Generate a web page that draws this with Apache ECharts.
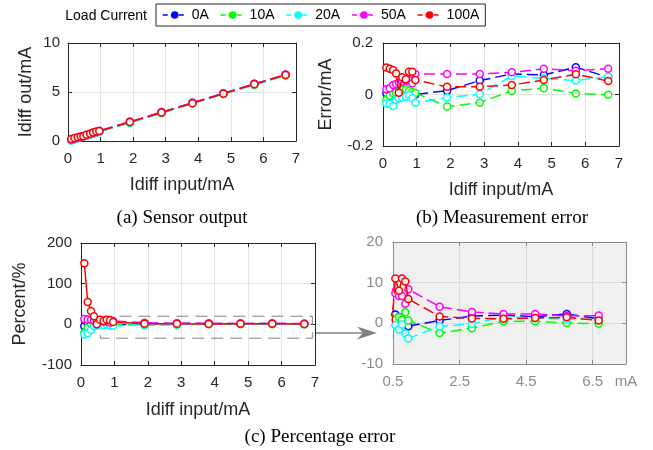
<!DOCTYPE html>
<html>
<head>
<meta charset="utf-8">
<script src="https://cdn.jsdelivr.net/npm/echarts@6/dist/echarts.min.js"></script>
<style>
html, body { margin: 0; padding: 0; background: #fff; }
#main { width: 653px; height: 450px; }
</style>
</head>
<body>
<div id="main"></div>
<script>
// load currents and their colours
var names = ['0A', '10A', '20A', '50A', '100A'];
var colors = ['#0000ff', '#00ff00', '#00ffff', '#ff00ff', '#ff0000'];

// Idiff input (mA), shared by every panel
var inputs = [0.1, 0.2, 0.3, 0.39, 0.47, 0.57, 0.68, 0.77, 0.87, 0.96, 1.9, 2.87, 3.82, 4.77, 5.72, 6.68];

// (a) Idiff out / mA
var out0A   = [0.1, 0.21, 0.31, 0.41, 0.49, 0.58, 0.69, 0.78, 0.87, 0.96, 1.92, 2.92, 3.9, 4.85, 5.83, 6.75];
var out10A  = [0.08, 0.2, 0.31, 0.4, 0.48, 0.58, 0.7, 0.78, 0.88, 0.97, 1.85, 2.84, 3.84, 4.79, 5.72, 6.68];
var out20A  = [0.06, 0.16, 0.29, 0.38, 0.46, 0.56, 0.68, 0.76, 0.84, 0.93, 1.89, 2.87, 3.89, 4.83, 5.77, 6.75];
var out50A  = [0.12, 0.22, 0.34, 0.43, 0.51, 0.61, 0.73, 0.83, 0.91, 1.04, 1.98, 2.95, 3.91, 4.87, 5.81, 6.78];
var out100A = [0.2, 0.3, 0.39, 0.47, 0.48, 0.64, 0.74, 0.86, 0.96, 1.02, 1.93, 2.9, 3.86, 4.83, 5.8, 6.73];

// (b) Error / mA
var err0A   = [0.005, 0.008, 0.012, 0.016, 0.018, 0.014, 0.01, 0.008, 0.004, 0.0, 0.015, 0.054, 0.08, 0.076, 0.106, 0.067];
var err10A  = [-0.02, -0.005, 0.005, 0.008, 0.012, 0.018, 0.02, 0.015, 0.01, 0.006, -0.047, -0.032, 0.015, 0.024, 0.004, -0.001];
var err20A  = [-0.035, -0.037, -0.045, -0.02, -0.015, -0.012, -0.009, -0.002, -0.015, -0.032, -0.012, 0.001, 0.072, 0.063, 0.054, 0.069];
var err50A  = [0.02, 0.024, 0.037, 0.041, 0.046, 0.05, 0.053, 0.056, 0.044, 0.08, 0.08, 0.08, 0.086, 0.1, 0.092, 0.1];
var err100A = [0.105, 0.1, 0.095, 0.082, 0.007, 0.067, 0.059, 0.088, 0.088, 0.056, 0.03, 0.03, 0.037, 0.056, 0.079, 0.052];

// (c) Percent / %  (also the zoomed panel)
var pct0A   = [-5, 2, 3, 3.5, 3, 2.2, 1.5, 1, 0.5, -0.7, 0.7, 1.8, 2.0, 1.6, 2.3, 1.1];
var pct10A  = [-21, -8, 1.5, 2, 2.5, 0.9, 1.5, 0.9, 2.7, 0.7, -2.4, -1.2, 0.5, 0.5, 0.1, -0.1];
var pct20A  = [-25, -22, -14, -5, -3, -0.4, -1.6, -0.3, -2.5, -3.7, -0.8, -0.1, 1.6, 1.3, 1.0, 1.0];
var pct50A  = [13, 12, 11, 9.5, 8.5, 7.4, 6.7, 6.7, 4.8, 8.4, 4.1, 2.8, 2.3, 2.3, 1.8, 1.9];
var pct100A = [150, 55, 33, 20, 0, 11, 8, 11, 10.3, 6, 1.7, 1.2, 1.1, 1.3, 1.5, 0.7];

// zoom box drawn on (c): [x0, y0, x1, y1]
var zoomBox = [0.58, 20, 6.92, -34];

var outs = [out0A, out10A, out20A, out50A, out100A];
var errs = [err0A, err10A, err20A, err50A, err100A];
var pcts = [pct0A, pct10A, pct20A, pct50A, pct100A];

var SANS = '"Liberation Sans", Arial, sans-serif';
var SERIF = '"Liberation Serif", "Times New Roman", serif';
var DARK = '#262626';
var GRAY = '#8a8a8a';

var grids = [
  { left: 68, top: 43, width: 228, height: 98 },
  { left: 383, top: 43, width: 236, height: 103 },
  { left: 81, top: 243, width: 234, height: 122 },
  { left: 393, top: 242, width: 233, height: 122, show: true, backgroundColor: '#f0f0f0', borderWidth: 0 }
];

var xAxes = [];
var yAxes = [];

function addAxes(g, dir, min, max, interval, opt) {
  var lineColor = opt.gray ? GRAY : DARK;
  var main = {
    type: 'value', gridIndex: g, min: min, max: max, interval: interval,
    position: dir == 'x' ? 'bottom' : 'left',
    axisLine: { show: true, onZero: false, lineStyle: { color: lineColor, width: 1 } },
    axisTick: { show: true, inside: true, length: 4, lineStyle: { color: lineColor } },
    axisLabel: { color: lineColor, fontSize: 15, fontFamily: SANS, margin: opt.margin || 10, formatter: opt.fmt },
    splitLine: { show: true, lineStyle: { color: opt.gray ? '#dadada' : '#e4e4e4' } },
    name: opt.name || '', nameLocation: 'middle', nameGap: opt.gap || 30,
    nameTextStyle: { color: DARK, fontSize: 18, fontFamily: SANS }
  };
  var other = {
    type: 'value', gridIndex: g, min: min, max: max, interval: interval,
    position: dir == 'x' ? 'top' : 'right',
    axisLine: { show: true, onZero: false, lineStyle: { color: lineColor, width: 1 } },
    axisTick: { show: true, inside: true, length: 4, lineStyle: { color: lineColor } },
    axisLabel: { show: false },
    splitLine: { show: false }
  };
  var list = dir == 'x' ? xAxes : yAxes;
  var idx = list.length;
  list.push(main, other);
  return idx;
}

var ax = [];
ax.push([addAxes(0, 'x', 0, 7, 1, { name: 'Idiff input/mA', gap: 35 }), addAxes(0, 'y', 0, 10, 5, { name: 'Idiff out/mA', gap: 33, margin: 8 })]);
ax.push([addAxes(1, 'x', 0, 7, 1, { name: 'Idiff input/mA', gap: 35 }), addAxes(1, 'y', -0.2, 0.2, 0.2, { name: 'Error/mA', gap: 48 })]);
ax.push([addAxes(2, 'x', 0, 7, 1, { name: 'Idiff input/mA', gap: 36 }), addAxes(2, 'y', -100, 200, 100, { name: 'Percent/%', gap: 52, margin: 9 })]);
ax.push([addAxes(3, 'x', 0.5, 7.5, 2, { gray: true, fmt: function (v) { return v == 7.5 ? 'mA' : v.toFixed(1); } }),
         addAxes(3, 'y', -10, 20, 10, { gray: true })]);

function pairs(vals) {
  var d = [];
  for (var i = 0; i < inputs.length; i++) d.push([inputs[i], vals[i]]);
  return d;
}

var series = [];
function addSeries(panel, k, vals, solid, bg) {
  series.push({
    name: names[k], type: 'line',
    xAxisIndex: ax[panel][0], yAxisIndex: ax[panel][1],
    data: pairs(vals),
    color: colors[k],
    symbol: 'circle', symbolSize: 7,
    itemStyle: { color: bg, borderColor: colors[k], borderWidth: 1.5 },
    lineStyle: { color: colors[k], width: 1.5, type: solid ? 'solid' : [11, 5] },
    clip: true, animation: false, z: 2 + k
  });
}
for (var k = 0; k < names.length; k++) {
  addSeries(0, k, outs[k], false, '#fff');
  addSeries(1, k, errs[k], false, '#fff');
  addSeries(2, k, pcts[k], k == 4, '#fff');
  addSeries(3, k, pcts[k], false, '#f0f0f0');
}

// dashed zoom rectangle on (c)
series.push({
  type: 'line', xAxisIndex: ax[2][0], yAxisIndex: ax[2][1], data: [], silent: true,
  markArea: {
    silent: true,
    itemStyle: { color: 'rgba(0,0,0,0)', borderColor: '#808080', borderWidth: 1, borderType: [12, 7] },
    data: [[{ coord: [zoomBox[0], zoomBox[1]] }, { coord: [zoomBox[2], zoomBox[3]] }]]
  }
});

var legendData = [];
for (var j = 0; j < names.length; j++) {
  legendData.push({
    name: names[j],
    itemStyle: { color: colors[j], borderColor: colors[j] },
    lineStyle: { color: colors[j], width: 1.5, type: [5, 3] }
  });
}

var option = {
  backgroundColor: '#fff',
  animation: false,
  grid: grids,
  xAxis: xAxes,
  yAxis: yAxes,
  series: series,
  legend: {
    left: 156, top: 4, itemWidth: 24, itemHeight: 7, itemGap: 11,
    padding: [4, 6, 4, 6],
    borderColor: DARK, borderWidth: 1,
    textStyle: { color: '#000', fontSize: 14, fontFamily: SANS },
    data: legendData
  },
  graphic: [
    { type: 'text', x: 147, y: 16, style: { text: 'Load Current', font: '14px ' + SANS, fill: '#000', align: 'right', verticalAlign: 'middle' } },
    { type: 'text', x: 182, y: 218, style: { text: '(a) Sensor output', font: '19px ' + SERIF, fill: '#000', align: 'center', verticalAlign: 'middle' } },
    { type: 'text', x: 502, y: 218, style: { text: '(b) Measurement error', font: '19px ' + SERIF, fill: '#000', align: 'center', verticalAlign: 'middle' } },
    { type: 'text', x: 320, y: 437, style: { text: '(c) Percentage error', font: '19px ' + SERIF, fill: '#000', align: 'center', verticalAlign: 'middle' } },
    { type: 'line', shape: { x1: 315, y1: 333, x2: 366, y2: 333 }, style: { stroke: '#808080', lineWidth: 1.5 } },
    { type: 'polygon', shape: { points: [[357, 326.5], [377, 333], [357, 339.5], [363, 333]] }, style: { fill: '#808080' } }
  ]
};

var chart = echarts.init(document.getElementById('main'));
chart.setOption(option);
</script>
</body>
</html>
